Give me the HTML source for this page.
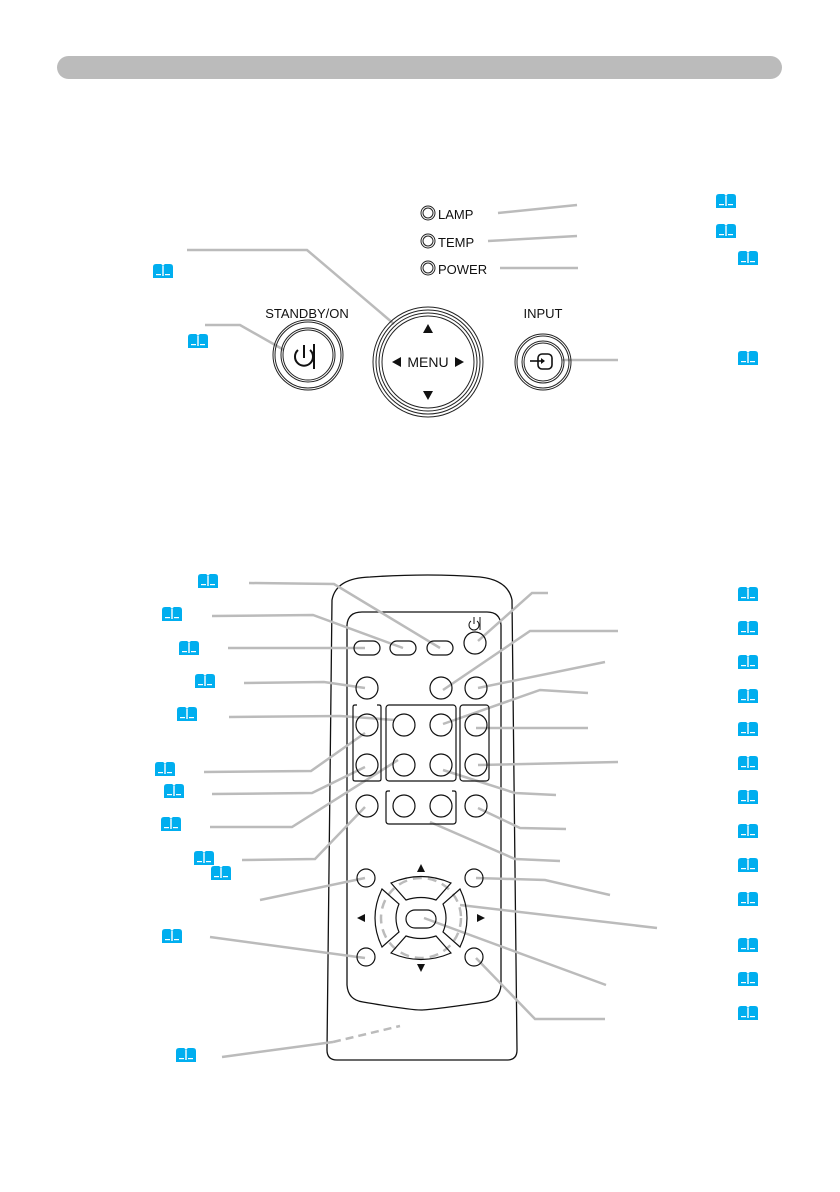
<!DOCTYPE html>
<html><head><meta charset="utf-8"><style>
html,body{margin:0;padding:0;background:#fff;}
svg{display:block;}
text{font-family:"Liberation Sans",sans-serif;fill:#111;}
</style></head><body>
<svg width="840" height="1192" viewBox="0 0 840 1192" xmlns="http://www.w3.org/2000/svg">
<defs>
<g id="bk">
<path d="M0,3 Q0,0 3,0 L8,0 Q10,1 10,3 Q10,1 12,0 L17,0 Q20,0 20,3 L20,14 L0,14 Z" fill="#00aeef"/>
<rect x="9.3" y="2" width="1.4" height="10" fill="#fff"/>
<rect x="3" y="10" width="5" height="1.2" fill="#fff"/>
<rect x="12" y="10" width="5" height="1.2" fill="#fff"/>
</g>
</defs>
<rect x="57" y="56" width="725" height="23" rx="11.5" fill="#bbb"/>

<!-- top panel connectors -->
<g stroke="#bbb" stroke-width="2.5" fill="none">
<polyline points="187,250 307,250 394,324"/>
<polyline points="205,325 240,325 284,350"/>
<line x1="498" y1="213" x2="577" y2="205"/>
<line x1="488" y1="241" x2="577" y2="236"/>
<line x1="500" y1="268" x2="578" y2="268"/>
<line x1="562" y1="360" x2="618" y2="360"/>
</g>
<!-- LEDs -->
<g fill="none" stroke="#222">
<circle cx="428" cy="213" r="7" stroke-width="1"/><circle cx="428" cy="213" r="5" stroke-width="1"/>
<circle cx="428" cy="241" r="7" stroke-width="1"/><circle cx="428" cy="241" r="5" stroke-width="1"/>
<circle cx="428" cy="268" r="7" stroke-width="1"/><circle cx="428" cy="268" r="5" stroke-width="1"/>
</g>
<text x="438" y="219" font-size="13">LAMP</text>
<text x="438" y="247" font-size="13">TEMP</text>
<text x="438" y="274" font-size="13">POWER</text>
<text x="307" y="318" font-size="13" text-anchor="middle">STANDBY/ON</text>
<text x="543" y="318" font-size="13" text-anchor="middle">INPUT</text>
<!-- standby -->
<g fill="none" stroke="#222" stroke-width="1">
<circle cx="308" cy="355" r="35"/><circle cx="308" cy="355" r="33"/><circle cx="308" cy="355" r="27"/><circle cx="308" cy="355" r="25"/>
<circle cx="428" cy="362" r="55"/><circle cx="428" cy="362" r="52"/><circle cx="428" cy="362" r="49"/><circle cx="428" cy="362" r="46"/>
<circle cx="543" cy="362" r="28"/><circle cx="543" cy="362" r="26"/><circle cx="543" cy="362" r="21"/><circle cx="543" cy="362" r="19"/>
</g>
<path d="M298,350 A9,9 0 1 0 310,350" fill="none" stroke="#111" stroke-width="2"/>
<line x1="304" y1="345" x2="304" y2="358" stroke="#111" stroke-width="2"/>
<line x1="314" y1="344" x2="314" y2="369" stroke="#111" stroke-width="2"/>
<text x="428" y="367" font-size="14" text-anchor="middle">MENU</text>
<path d="M428,324 l-5,9 h10z M428,400 l-5,-9 h10z M392,362 l9,-5 v10z M464,362 l-9,-5 v10z" fill="#111"/>
<rect x="538" y="354" width="14" height="15" rx="4" fill="none" stroke="#111" stroke-width="1.6"/>
<line x1="530" y1="361" x2="544" y2="361" stroke="#111" stroke-width="1.6"/>
<path d="M545,361 l-4,-3 v6z" fill="#111"/>

<!-- remote body -->
<path d="M332,600 Q336,578 370,577 Q430,573 480,577 Q508,580 512,600 L517,1050 Q517,1060 507,1060 L337,1060 Q327,1060 327,1050 Z" fill="none" stroke="#111" stroke-width="1.3"/>
<path d="M347,625 Q348,612 362,612 L487,612 Q500,612 501,625 L501,985 Q500,1000 485,1002 Q430,1010 421,1010 Q410,1010 363,1002 Q348,1000 347,985 Z" fill="none" stroke="#111" stroke-width="1.3"/>

<!-- remote connectors -->
<g stroke="#bbb" stroke-width="2.5" fill="none">
<polyline points="249,583 334,584 440,648"/>
<polyline points="212,616 313,615 403,648"/>
<line x1="228" y1="648" x2="365" y2="648"/>
<polyline points="244,683 324,682 365,688"/>
<polyline points="229,717 340,716 395,720"/>
<polyline points="204,772 311,771 365,733"/>
<polyline points="212,794 312,793 365,767"/>
<polyline points="210,827 292,827 398,760"/>
<polyline points="242,860 315,859 365,807"/>
<line x1="260" y1="900" x2="365" y2="878"/>
<line x1="210" y1="937" x2="365" y2="958"/>
<line x1="222" y1="1057" x2="333" y2="1042"/>
<line x1="333" y1="1042" x2="400" y2="1026" stroke-dasharray="8,5"/>
<polyline points="548,593 532,593 478,641"/>
<polyline points="618,631 530,631 443,690"/>
<line x1="605" y1="662" x2="478" y2="688"/>
<polyline points="588,693 540,690 443,724"/>
<line x1="588" y1="728" x2="476" y2="728"/>
<line x1="618" y1="762" x2="478" y2="765"/>
<polyline points="556,795 515,793 443,770"/>
<polyline points="566,829 520,828 478,808"/>
<polyline points="560,861 515,859 430,822"/>
<polyline points="610,895 545,880 476,878"/>
<line x1="657" y1="928" x2="460" y2="905"/>
<line x1="606" y1="985" x2="424" y2="918"/>
<polyline points="605,1019 535,1019 476,958"/>
<circle cx="421" cy="918" r="40" stroke-dasharray="9,6"/>
</g>

<!-- remote buttons -->
<g fill="none" stroke="#111" stroke-width="1.2">
<rect x="354" y="641" width="26" height="14" rx="7"/>
<rect x="390" y="641" width="26" height="14" rx="7"/>
<rect x="427" y="641" width="26" height="14" rx="7"/>
<circle cx="475" cy="643" r="11"/>
<circle cx="367" cy="688" r="11"/><circle cx="441" cy="688" r="11"/><circle cx="476" cy="688" r="11"/>
<circle cx="367" cy="725" r="11"/><circle cx="404" cy="725" r="11"/><circle cx="441" cy="725" r="11"/><circle cx="476" cy="725" r="11"/>
<circle cx="367" cy="765" r="11"/><circle cx="404" cy="765" r="11"/><circle cx="441" cy="765" r="11"/><circle cx="476" cy="765" r="11"/>
<circle cx="367" cy="806" r="11"/><circle cx="404" cy="806" r="11"/><circle cx="441" cy="806" r="11"/><circle cx="476" cy="806" r="11"/>
<path d="M357,705 h-2 q-2,0 -2,2 v72 q0,2 2,2 h24 q2,0 2,-2 v-72 q0,-2 -2,-2 h-2"/>
<rect x="386" y="705" width="70" height="76" rx="3"/>
<rect x="460" y="705" width="29" height="76" rx="3"/>
<path d="M390,791 h-2 q-2,0 -2,2 v28 q0,3 3,3 h64 q3,0 3,-3 v-28 q0,-2 -2,-2 h-2"/>
<circle cx="366" cy="878" r="9"/><circle cx="474" cy="878" r="9"/>
<circle cx="366" cy="957" r="9"/><circle cx="474" cy="957" r="9"/>
<rect x="406" y="910" width="30" height="18" rx="9"/>
<path d="M391,883 Q421,870 451,883 L436,900 Q421,895 406,900 Z"/>
<path d="M391,953 Q421,966 451,953 L436,936 Q421,941 406,936 Z"/>
<path d="M382,889 Q368,918 382,947 L399,932 Q393,918 399,904 Z"/>
<path d="M460,889 Q474,918 460,947 L443,932 Q449,918 443,904 Z"/>
</g>
<path d="M421,864 l-4,8 h8z M421,972 l-4,-8 h8z M357,918 l8,-4 v8z M485,918 l-8,-4 v8z" fill="#111"/>
<path d="M471,621 A5,5 0 1 0 477,621" fill="none" stroke="#111" stroke-width="1"/>
<line x1="474" y1="617" x2="474" y2="624" stroke="#111" stroke-width="1"/>
<line x1="480" y1="617" x2="480" y2="630" stroke="#111" stroke-width="1"/>

<!-- book icons -->
<use href="#bk" x="716" y="194"/>
<use href="#bk" x="716" y="224"/>
<use href="#bk" x="738" y="251"/>
<use href="#bk" x="738" y="351"/>
<use href="#bk" x="153" y="264"/>
<use href="#bk" x="188" y="334"/>
<use href="#bk" x="198" y="574"/>
<use href="#bk" x="162" y="607"/>
<use href="#bk" x="179" y="641"/>
<use href="#bk" x="195" y="674"/>
<use href="#bk" x="177" y="707"/>
<use href="#bk" x="155" y="762"/>
<use href="#bk" x="164" y="784"/>
<use href="#bk" x="161" y="817"/>
<use href="#bk" x="194" y="851"/>
<use href="#bk" x="211" y="866"/>
<use href="#bk" x="162" y="929"/>
<use href="#bk" x="176" y="1048"/>
<use href="#bk" x="738" y="587"/>
<use href="#bk" x="738" y="621"/>
<use href="#bk" x="738" y="655"/>
<use href="#bk" x="738" y="689"/>
<use href="#bk" x="738" y="722"/>
<use href="#bk" x="738" y="756"/>
<use href="#bk" x="738" y="790"/>
<use href="#bk" x="738" y="824"/>
<use href="#bk" x="738" y="858"/>
<use href="#bk" x="738" y="892"/>
<use href="#bk" x="738" y="938"/>
<use href="#bk" x="738" y="972"/>
<use href="#bk" x="738" y="1006"/>
</svg>
</body></html>
